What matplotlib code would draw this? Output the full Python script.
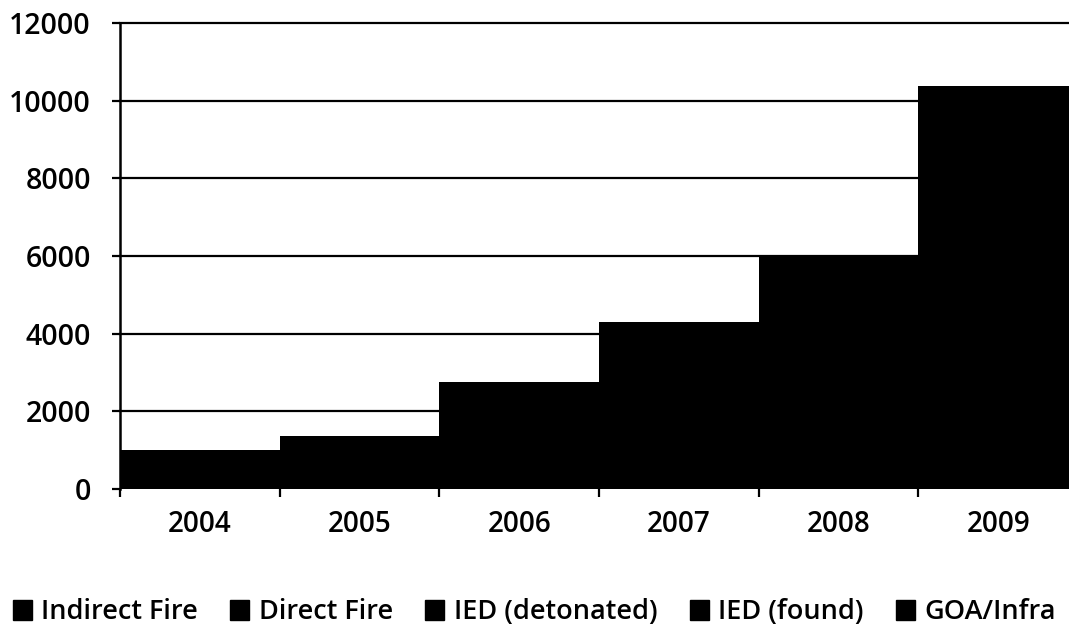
import matplotlib
matplotlib.use("Agg")
import matplotlib.pyplot as plt
import numpy as np
from matplotlib.patches import Patch

years = ["2004", "2005", "2006", "2007", "2008", "2009"]
series_names = ["Indirect Fire", "Direct Fire", "IED (detonated)", "IED (found)", "GOA/Infra"]
indirect_fire = [120, 150, 300, 400, 550, 1000]
direct_fire = [400, 560, 1300, 2200, 3000, 5500]
ied_detonated = [150, 200, 450, 650, 900, 1800]
ied_found = [200, 300, 450, 700, 1100, 1600]
goa_infra = [130, 160, 260, 350, 450, 480]
yticks = [0, 2000, 4000, 6000, 8000, 10000, 12000]

plt.rcParams['font.family'] = ['Open Sans', 'DejaVu Sans']

fig = plt.figure(figsize=(10.69, 6.33), dpi=100)
# plot area runs past the right edge (reference is cropped)
ax = fig.add_axes([120 / 1069, 144 / 633, 958 / 1069, 466 / 633])

x = np.arange(len(years))
bottom = np.zeros(len(years))
for vals in [indirect_fire, direct_fire, ied_detonated, ied_found, goa_infra]:
    ax.bar(x, vals, width=1.0, bottom=bottom, color="black", linewidth=0,
           antialiased=False, zorder=3)
    bottom += np.array(vals)

ax.set_xlim(-0.5, len(years) - 0.5)
ax.set_ylim(0, 12000)
ax.set_yticks(yticks)
ax.set_yticklabels([str(v) for v in yticks], fontsize=20.5, fontweight="semibold")
for v in yticks[1:]:
    ax.axhline(v, color="black", linewidth=1.6, zorder=1, clip_on=False)

ax.set_xticks(x)
ax.set_xticklabels(years, fontsize=20, fontweight="semibold")
ax.tick_params(axis="x", which="major", length=0, pad=15)
ax.set_xticks(np.arange(len(years)) - 0.5, minor=True)
ax.tick_params(axis="x", which="minor", length=6, width=1.6, direction="out")
ax.tick_params(axis="y", length=6, width=1.6, direction="out", pad=15)

for s in ["top", "right", "bottom"]:
    ax.spines[s].set_visible(False)
ax.spines["left"].set_linewidth(1.8)
ax.spines["left"].set_zorder(4)

handles = [Patch(facecolor="black", edgecolor="black") for _ in series_names]
fig.legend(handles, series_names, loc="lower center", bbox_to_anchor=(0.5, -0.028),
           ncol=5, frameon=False, handlelength=0.7, handleheight=0.8,
           handletextpad=0.35, columnspacing=1.2, prop={"size": 19.5, "weight": "semibold"})

fig.savefig("out.png", dpi=100)
